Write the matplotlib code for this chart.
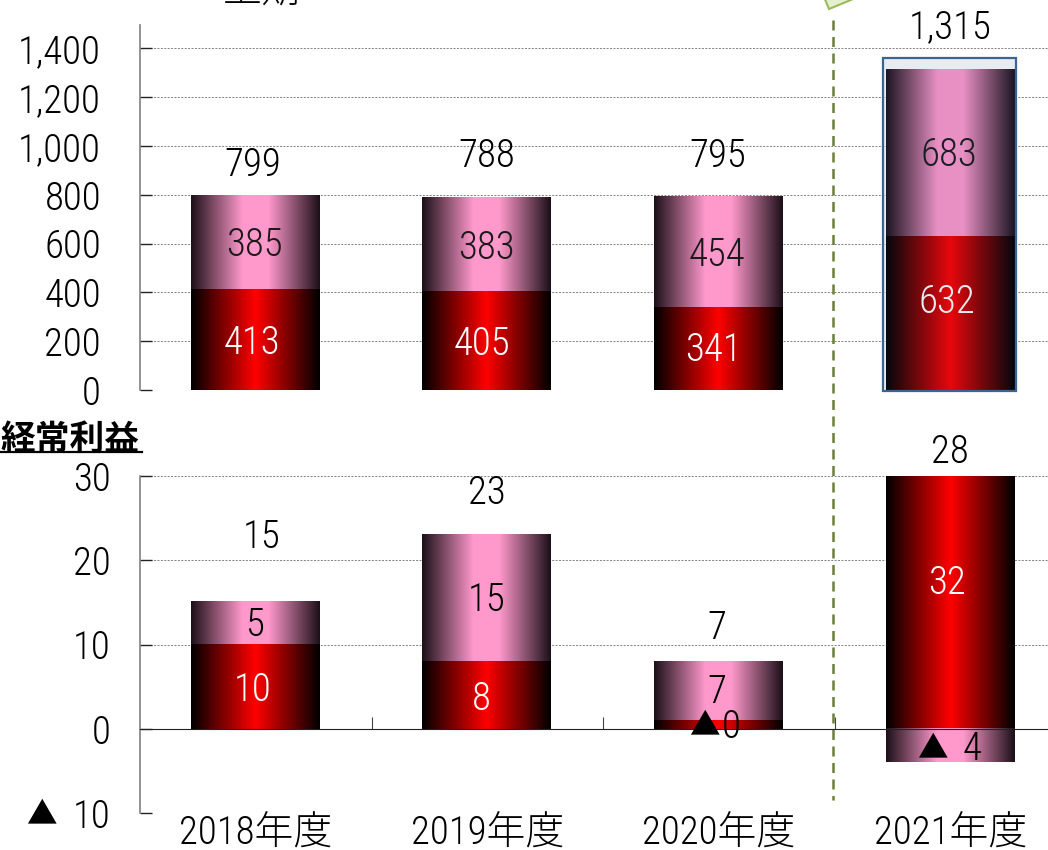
import matplotlib
matplotlib.use('Agg')
import matplotlib.pyplot as plt
from matplotlib.colors import LinearSegmentedColormap
from matplotlib.lines import Line2D
from matplotlib.patches import Polygon, Rectangle
import numpy as np

plt.rcParams['font.family'] = ['Roboto Condensed', 'Noto Sans CJK JP', 'DejaVu Sans']
plt.rcParams['font.weight'] = 300
FS = 28

years = ['2018年度', '2019年度', '2020年度', '2021年度']

sales_red = [413, 405, 341, 632]
sales_pink = [385, 383, 454, 683]
sales_totals = ['799', '788', '795', '1,315']
sales_ticks = [0, 200, 400, 600, 800, 1000, 1200, 1400]

profit_red = [10, 8, 1, 32]
profit_pink = [5, 15, 7, -4]
profit_red_labels = ['10', '8', '', '32']
profit_pink_labels = ['5', '15', '7', '']
profit_totals = ['15', '23', '7', '28']
profit_ticks = [-10, 0, 10, 20, 30]
profit_tick_labels = ['10', '0', '10', '20', '30']

W, H = 1048, 850
BAR_W = 0.555

red_cmap = LinearSegmentedColormap.from_list('red', ['#000000', '#ff0000', '#000000'])
pink_cmap = LinearSegmentedColormap.from_list(
    'pink', [(0, '#1c1018'), (0.4, '#ff99cc'), (0.6, '#ff99cc'), (1, '#1c1018')])
gradient = np.linspace(0, 1, 256).reshape(1, -1)


def px_axes(left, top, right, bottom):
    return fig.add_axes([left / W, 1 - bottom / H, (right - left) / W, (bottom - top) / H])


def px(x, y):
    return x / W, 1 - y / H


def gradient_bars(ax, x, heights, bottoms, cmap):
    """Bars whose fill is a horizontal gradient image."""
    bars = ax.bar(x, heights, BAR_W, bottom=bottoms, color='none', zorder=3)
    for rect in bars:
        x0, w = rect.get_x(), rect.get_width()
        y0, h = rect.get_y(), rect.get_height()
        ax.imshow(gradient, cmap=cmap, aspect='auto', zorder=3,
                  extent=(x0, x0 + w, y0, y0 + h))
    return bars


def label(ax, text, x, y, dx, dy, color='black', size=FS):
    # dx, dy are pixel offsets from the data point
    ax.annotate(text, (x, y), xytext=(dx * 0.72, -dy * 0.72), textcoords='offset points',
                ha='center', va='center_baseline', fontsize=size, color=color, zorder=6,
                annotation_clip=False)


fig = plt.figure(figsize=(W / 100, H / 100), dpi=100)
x = np.arange(len(years)) - 0.004

# sales
ax1 = px_axes(140, 25, W, 390)
gradient_bars(ax1, x, sales_red, 0, red_cmap)
gradient_bars(ax1, x, sales_pink, sales_red, pink_cmap)
ax1.set_xlim(-0.5, 3.42)
ax1.set_ylim(0, 1496)
ax1.set_xticks([])
ax1.set_yticks(sales_ticks)
ax1.set_yticklabels(['{:,}'.format(t) for t in sales_ticks], fontsize=FS)
ax1.tick_params(axis='y', direction='in', length=8.6, width=1, pad=28, color='#222222')
ax1.grid(axis='y', linestyle=(0, (2, 1.5)), linewidth=0.7, color='#808080', zorder=0)
ax1.set_axisbelow(True)
for side in ['top', 'right', 'bottom']:
    ax1.spines[side].set_visible(False)
ax1.spines['left'].set_color('#808080')
ax1.spines['left'].set_linewidth(1.2)

total_offsets = [(-2, -34), (0, -45), (0, -44), (0, -46)]
red_offsets = [(-3, 0), (-5, 0), (-5, -2), (-3, -15)]
pink_offsets = [(0, -1), (0, 0), (-1, 0), (-1, -1)]
for i in range(len(years)):
    top = sales_red[i] + sales_pink[i]
    label(ax1, sales_totals[i], x[i], top, *total_offsets[i])
    label(ax1, str(sales_red[i]), x[i], sales_red[i] / 2, *red_offsets[i], color='white')
    label(ax1, str(sales_pink[i]), x[i], sales_red[i] + sales_pink[i] / 2, *pink_offsets[i],
          color='#1a1a1a')

# ordinary profit
ax2 = px_axes(140, 476, W, 813)
gradient_bars(ax2, x, profit_red, 0, red_cmap)
pink_bottoms = [r if p > 0 else 0 for r, p in zip(profit_red, profit_pink)]
gradient_bars(ax2, x, profit_pink, pink_bottoms, pink_cmap)
ax2.set_xlim(-0.5, 3.42)
ax2.set_ylim(-10, 30)
ax2.set_xticks([0.5, 1.5, 2.5])
ax2.set_xticklabels([])
ax2.tick_params(axis='x', direction='in', length=8.6, width=0.8, color='#444444')
ax2.set_yticks(profit_ticks)
ax2.set_yticklabels(profit_tick_labels, fontsize=FS)
ax2.tick_params(axis='y', direction='in', length=8.6, width=1, pad=21, color='#222222')
ax2.grid(axis='y', linestyle=(0, (2, 1.5)), linewidth=0.7, color='#808080', zorder=0)
ax2.set_axisbelow(True)
for side in ['top', 'right']:
    ax2.spines[side].set_visible(False)
ax2.spines['left'].set_color('#808080')
ax2.spines['left'].set_linewidth(1.2)
ax2.spines['bottom'].set_position(('data', 0))
ax2.spines['bottom'].set_color('#222222')
ax2.spines['bottom'].set_zorder(5)

profit_total_offsets = [(7, -69), (0, -46), (-1, -37), (0, -28)]
for i in range(len(years)):
    top = max(profit_red[i], pink_bottoms[i] + max(profit_pink[i], 0))
    top = min(top, 30)
    label(ax2, profit_totals[i], x[i], top, *profit_total_offsets[i])
    ax2.annotate(years[i], (i, -10), xytext=(0, -21 * 0.72), textcoords='offset points',
                 ha='center', va='center', fontsize=FS, annotation_clip=False)
label(ax2, profit_red_labels[0], x[0], 5, -2, 0, color='white')
label(ax2, profit_red_labels[1], x[1], 4, -5, 0, color='white')
label(ax2, profit_red_labels[3], x[3], 16.5, -3, -10, color='white')
label(ax2, profit_pink_labels[0], x[0], 12.5, 0, -2)
label(ax2, profit_pink_labels[1], x[1], 15.5, 0, -2)
label(ax2, profit_pink_labels[2], x[2], 4.5, -1, -3)
label(ax2, '▲', x[2], 0, -14, -6, size=22)
label(ax2, '0', x[2], 0, 13, -6)
label(ax2, '▲', x[3], -2, -17, 0, size=22)
label(ax2, '4', x[3], -2, 22, 0)
# triangle in front of the lowest tick label
fig.text(*px(41, 812), '▲', fontsize=22, ha='center', va='center_baseline')

# annotations on the figure itself
fig.add_artist(Rectangle(px(883, 391), 133 / W, 333 / H, transform=fig.transFigure,
                         facecolor='#1f497d', alpha=0.1, linewidth=0, zorder=3))
fig.add_artist(Rectangle(px(883, 391), 133 / W, 333 / H, transform=fig.transFigure,
                         edgecolor='#3a6491', linewidth=1.6, zorder=4, fill=False))
fig.add_artist(Line2D([833 / W, 833 / W], [1 - 20 / H, 1 - 800 / H], transform=fig.transFigure,
                      color='#6b7f3a', linewidth=1.8, linestyle=(0, (4, 2.6)), zorder=4))
fig.add_artist(Polygon([px(824, -3), px(829, 9), px(858, -3)], closed=True,
                       transform=fig.transFigure, facecolor='#e6f0d0',
                       edgecolor='#9bbb59', linewidth=1.5, zorder=4))

fig.text(*px(0, 439), '経常利益', fontsize=25, fontweight='bold', ha='left', va='center',
         family='Noto Sans CJK JP')
fig.add_artist(Line2D([0, 142 / W], [1 - 452 / H, 1 - 452 / H], transform=fig.transFigure,
                      color='black', linewidth=1.6))
fig.text(*px(262, -9), '上期', fontsize=FS, ha='center', va='center')

fig.savefig('out.png', dpi=100)
